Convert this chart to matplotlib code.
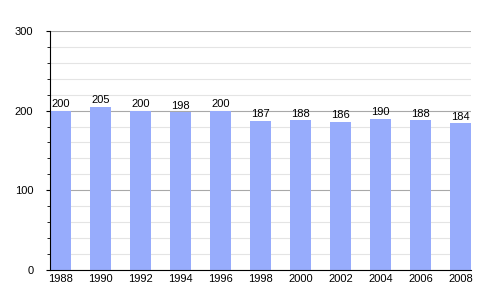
import numpy as np
import matplotlib
matplotlib.use("Agg")
import matplotlib.pyplot as plt

plt.rcParams["font.family"] = ["Liberation Sans", "DejaVu Sans"]

# annees et population
annees = ["1988", "1990", "1992", "1994", "1996", "1998", "2000", "2002", "2004", "2006", "2008"]
valeurs = [200, 205, 200, 198, 200, 187, 188, 186, 190, 188, 184]

fig = plt.figure(figsize=(5, 3), dpi=100)
ax = fig.add_axes([0.10, 0.10, 0.842, 0.797])

x = np.arange(len(annees))
ax.bar(x, valeurs, width=0.52, color="#97acfc", zorder=2)

# valeur au-dessus de chaque barre
for xi, v in zip(x, valeurs):
    ax.text(xi, v + 2, str(v), ha="center", va="bottom", fontsize=8, zorder=3)

ax.set_xlim(-0.26, len(annees) - 1 + 0.26)
ax.set_ylim(0, 300)
ax.set_xticks(x)
ax.set_xticklabels(annees, fontsize=8)
ax.set_yticks([0, 100, 200, 300])
ax.set_yticklabels(["0", "100", "200", "300"], fontsize=8)
ax.set_yticks(np.arange(0, 301, 20), minor=True)

# grille
ax.grid(axis="y", which="minor", color="#e4e4e4", linewidth=0.8, zorder=0)
ax.grid(axis="y", which="major", color="#a8a8a8", linewidth=0.8, zorder=1)

ax.spines["right"].set_visible(False)
ax.spines["top"].set_visible(False)
ax.tick_params(axis="x", length=0, pad=3)
ax.tick_params(axis="y", which="major", length=3, pad=9)
ax.tick_params(axis="y", which="minor", length=2)

fig.savefig("out.png", dpi=100)
